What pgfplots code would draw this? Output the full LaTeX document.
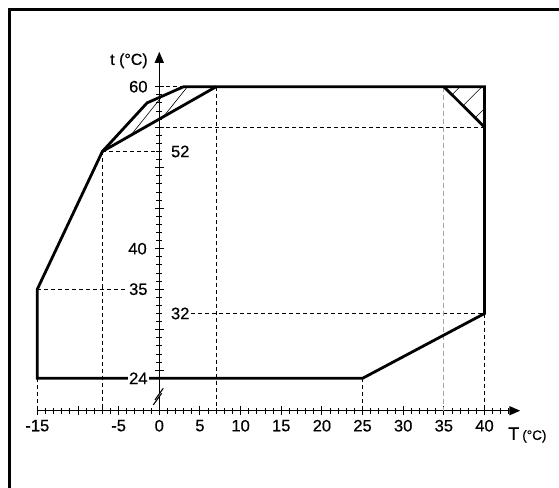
\documentclass[border=0pt]{standalone}
\usepackage{pgfplots}
\pgfplotsset{compat=1.18}
\usepackage{fontspec}
\setmainfont{Liberation Sans}[FakeBold=0.6]
\newfontfamily\lblfont{Liberation Sans}[FakeBold=0.6]
\usetikzlibrary{arrows.meta}

\begin{document}
\begin{tikzpicture}
\begin{axis}[
  x=8.13pt, y=8.1pt,
  xmin=-15, xmax=44.4, ymin=20, ymax=64.3,
  axis x line=bottom, axis y line=middle,
  x axis line style={line width=1.4pt,-{Triangle[length=11pt,width=9pt]}},
  y axis line style={line width=1.4pt,-{Triangle[length=11pt,width=9pt]}},
  clip=false,
  xtick={-15,-10,...,40},
  xticklabels={-15,{},-5,0,5,10,15,20,25,30,35,40},
  minor xtick={-15,-14,...,43},
  ytick={25,30,...,60},
  yticklabels={},
  minor ytick={24,25,...,60},
  tick align=center,
  major tick length=9pt, minor tick length=6pt,
  every tick/.append style={black, line width=0.9pt},
  tick label style={font=\lblfont\fontsize{16.5}{19}\selectfont, inner sep=1pt},
  /pgf/number format/assume math mode=true,
  xticklabel style={yshift=-3.5pt},
]
% guide lines
\addplot[black, line width=1.1pt, dash pattern=on 4pt off 3pt] coordinates {(0,55)(40,55)};
\addplot[black, line width=1.1pt, dash pattern=on 4pt off 3pt] coordinates {(0,60)(3,60)};
\addplot[black, line width=1.1pt, dash pattern=on 4pt off 3pt] coordinates {(-7,52)(0,52)};
\addplot[black, line width=1.1pt, dash pattern=on 4pt off 3pt] coordinates {(-15,35)(-4.1,35)};
\addplot[black, line width=1.1pt, dash pattern=on 4pt off 3pt] coordinates {(3.9,32)(40,32)};
\addplot[black, line width=1.1pt, dash pattern=on 4pt off 3pt] coordinates {(-15,24)(-15,20)};
\addplot[black, line width=1.1pt, dash pattern=on 4pt off 3pt] coordinates {(-7,52)(-7,20)};
\addplot[black, line width=1.1pt, dash pattern=on 4pt off 3pt] coordinates {(7,60)(7,20)};
\addplot[black, line width=1.1pt, dash pattern=on 4pt off 3pt] coordinates {(25,24)(25,20)};
\addplot[black, line width=1.1pt, dash pattern=on 4pt off 3pt] coordinates {(40,32)(40,20)};
\addplot[black!35, line width=0.8pt, dash pattern=on 5pt off 3pt] coordinates {(35,60)(35,20)};
% hatching
\addplot[black, line width=0.6pt] coordinates {(-3.5,54.0)(0.36,58.83)};
\addplot[black, line width=0.6pt] coordinates {(0.5,56.29)(3.47,60)};
\addplot[black, line width=0.6pt] coordinates {(36,59)(37,60)};
\addplot[black, line width=0.6pt] coordinates {(37.35,57.65)(39.7,60)};
\addplot[black, line width=0.6pt] coordinates {(38.85,56.15)(40,57.3)};
% envelope
\addplot[black, line width=2.8pt, line join=miter] coordinates {(-15,24)(-15,35)(-7,52)(-1.5,58)(3,60)(40,60)(40,32)(25,24)(-15,24)} -- cycle;
\addplot[black, line width=2.8pt] coordinates {(-7,52)(7,60)};
\addplot[black, line width=2.8pt] coordinates {(35,60)(40,55)};
% value labels
\node[anchor=east, inner sep=1pt, font=\lblfont\fontsize{16.5}{19}\selectfont] at (axis cs:-1.3,60) {60};
\node[anchor=west, inner sep=1pt, font=\lblfont\fontsize{16.5}{19}\selectfont] at (axis cs:1.3,52) {52};
\node[anchor=east, inner sep=1pt, font=\lblfont\fontsize{16.5}{19}\selectfont] at (axis cs:-1.4,40) {40};
\node[anchor=east, inner sep=1pt, font=\lblfont\fontsize{16.5}{19}\selectfont] at (axis cs:-1.3,35) {35};
\node[anchor=west, inner sep=1pt, font=\lblfont\fontsize{16.5}{19}\selectfont] at (axis cs:1.3,32) {32};
\node[anchor=east, inner sep=1pt, fill=white, font=\lblfont\fontsize{16.5}{19}\selectfont] at (axis cs:-1.3,24) {24};
% axis titles
\node[inner sep=0pt, font=\lblfont\fontsize{16}{19}\selectfont] at (axis cs:-3.73,63.2) {t (°C)};
\node[anchor=base west, inner sep=0pt, font=\lblfont] at (axis cs:42.9,16.4) {\fontsize{18}{20}\selectfont T\,{\fontsize{13.5}{15}\selectfont(°C)}};
% axis break mark
\fill[white] (axis cs:-0.74,20.71) -- (axis cs:0.29,22.15) -- (axis cs:0.49,22.77) -- (axis cs:-0.53,21.33) -- cycle;
\draw[line width=1.1pt] (axis cs:-0.74,20.71) -- (axis cs:0.29,22.15);
\draw[line width=1.1pt] (axis cs:-0.53,21.33) -- (axis cs:0.49,22.77);
% frame
\draw[line width=2.6pt, line join=miter] (axis cs:49.2,69.51) -- (axis cs:-18.4,69.51) -- (axis cs:-18.4,10.4);
\coordinate (bbA) at (axis cs:-19.59,70.70);
\coordinate (bbB) at (axis cs:49.16,10.46);
\end{axis}
\pgfresetboundingbox
\path[use as bounding box] (bbA) rectangle (bbB);
\end{tikzpicture}
\end{document}
